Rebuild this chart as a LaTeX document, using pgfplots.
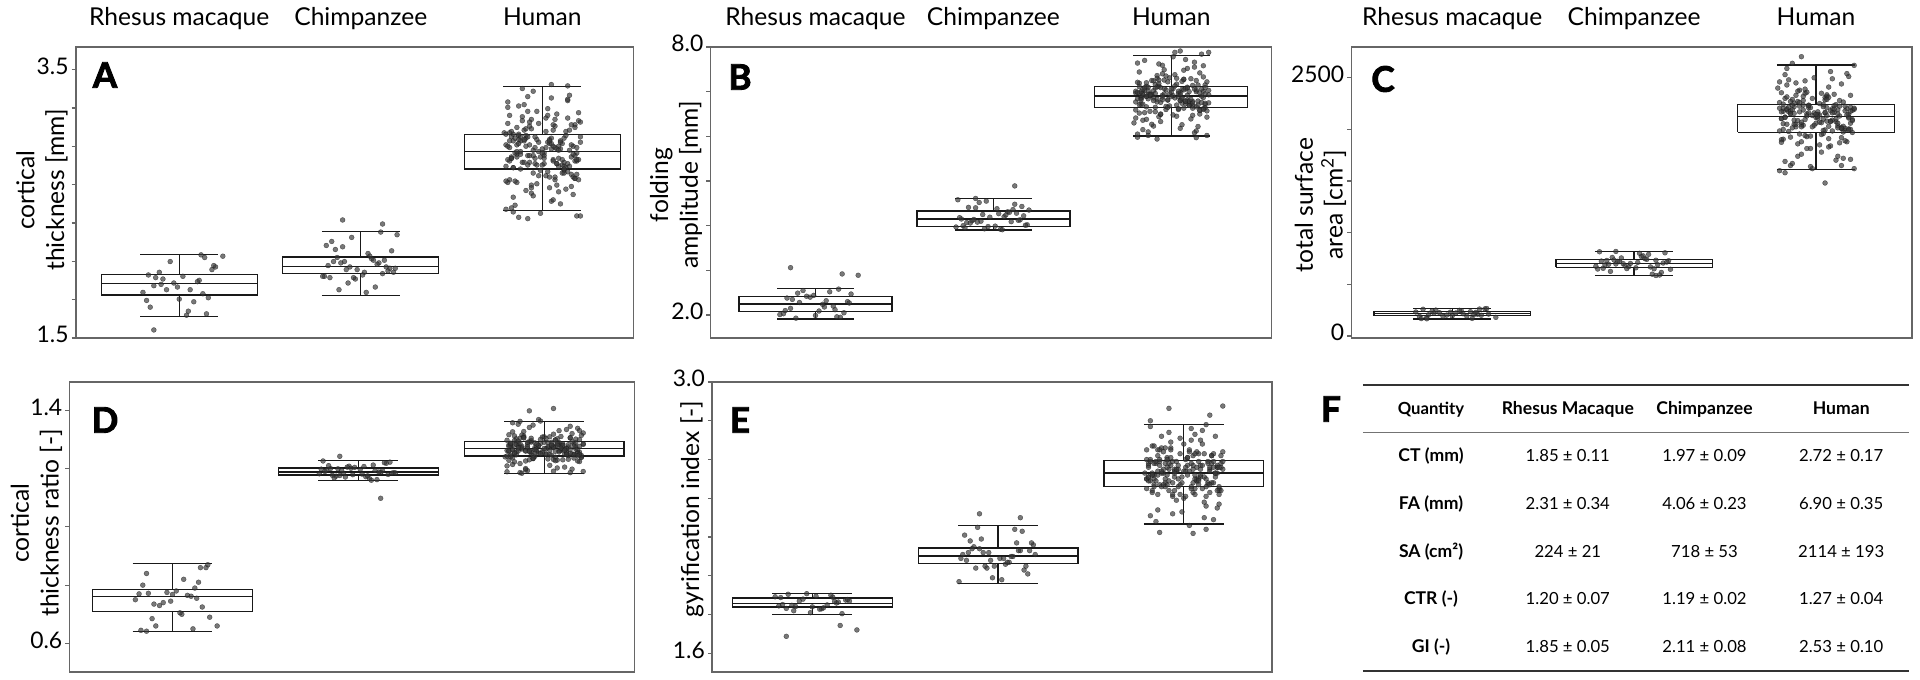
\documentclass[border=0pt]{standalone}
\usepackage{fontspec}
\setmainfont{Lato}
\newfontfamily\heavy{Lato}[BoldFeatures={FakeBold=2.5}]
\usepackage{pgfplots}
\usepackage{pgfplotstable}
\usepgfplotslibrary{statistics}
\pgfplotsset{compat=1.18}

% human: x jitter around 3, one y column per panel
\pgfplotstableread{
x A B C D E
2.93 2.81 7.62 2188 1.251 2.57
3.11 2.95 6.73 1702 1.205 2.63
2.82 2.68 6.52 1905 1.281 2.49
3.18 3.09 7.01 2512 1.338 2.56
2.99 2.85 7.31 2160 1.259 2.33
3.05 2.52 6.80 2310 1.231 2.43
2.88 2.97 6.95 2050 1.276 2.72
3.14 3.27 6.12 2010 1.305 2.55
2.80 2.78 6.41 2205 1.262 2.65
3.08 2.64 7.72 1840 1.289 2.47
2.91 3.01 7.08 2380 1.193 2.52
3.20 3.12 7.22 2095 1.238 2.58
2.86 2.87 6.66 1650 1.352 2.42
3.02 2.92 6.86 2140 1.271 2.61
2.84 2.44 6.98 2590 1.312 2.50
3.16 2.72 6.58 1990 1.247 2.29
2.95 3.34 7.40 1930 1.265 2.54
3.10 2.91 6.70 2230 1.285 2.75
2.90 3.05 6.23 2270 1.226 2.48
3.06 2.83 7.05 2080 1.298 2.45
3.13 2.77 7.55 2130 1.244 2.59
2.83 3.00 6.89 1580 1.214 2.67
3.04 2.62 6.60 1960 1.290 2.46
2.89 3.15 6.92 2450 1.327 2.53
3.19 2.88 7.15 2215 1.256 2.37
2.94 2.58 6.76 2350 1.235 2.41
3.09 2.93 7.10 1985 1.279 2.70
2.81 3.22 5.98 2105 1.316 2.58
3.01 2.80 6.48 2170 1.249 2.60
3.17 2.70 7.84 1880 1.273 2.51
2.87 2.98 6.94 2290 1.186 2.47
3.07 3.08 7.27 2030 1.229 2.56
2.92 2.86 6.83 1760 1.341 2.44
3.21 2.96 6.75 2195 1.283 2.64
2.85 2.49 7.03 2480 1.302 2.49
3.03 2.74 6.45 2065 1.263 2.26
2.97 3.19 7.35 1815 1.253 2.55
3.12 2.99 6.68 2150 1.269 2.78
2.79 3.03 6.30 2400 1.240 2.53
3.00 2.79 6.99 2115 1.309 2.40
2.96 2.84 7.49 2235 1.258 2.54
3.15 2.90 6.79 1720 1.198 2.62
2.86 2.66 6.38 1925 1.287 2.52
3.08 3.17 7.07 2560 1.330 2.59
2.82 2.82 7.19 2175 1.246 2.31
3.19 2.41 6.71 2330 1.224 2.45
2.93 2.94 7.12 2040 1.291 2.69
3.05 3.29 6.18 1995 1.318 2.57
2.88 2.76 6.56 2220 1.267 2.66
3.13 2.61 7.66 1870 1.274 2.48
2.80 3.02 6.97 2260 1.209 2.50
3.02 3.14 7.38 2070 1.233 2.57
2.98 2.89 6.81 1620 1.363 2.42
3.10 2.97 6.69 2165 1.280 2.68
2.84 2.55 6.93 2430 1.296 2.46
3.18 2.69 6.62 2005 1.255 2.35
2.90 3.24 7.24 1860 1.261 2.58
3.06 2.93 6.87 2210 1.277 2.73
2.81 3.10 6.05 2355 1.228 2.49
3.14 2.80 7.00 2020 1.306 2.43
3.01 2.86 7.78 2145 1.250 2.56
2.87 3.01 6.84 1670 1.217 2.65
3.16 2.63 6.50 1890 1.284 2.48
2.94 3.06 7.09 2470 1.349 2.59
3.11 2.79 7.29 2240 1.266 2.38
2.83 2.47 6.72 2300 1.237 2.44
3.04 2.95 6.96 2100 1.272 2.76
2.89 3.36 6.27 2025 1.311 2.55
3.20 2.83 6.43 2185 1.245 2.62
2.95 2.73 7.59 1815 1.288 2.51
3.07 2.92 7.04 2410 1.202 2.49
2.82 3.16 7.44 2055 1.241 2.59
3.12 2.81 6.78 1740 1.334 2.41
2.91 2.99 6.65 2225 1.270 2.61
3.17 2.57 7.06 2540 1.301 2.53
2.85 2.67 6.53 1980 1.257 2.28
3.03 3.21 7.17 1950 1.248 2.54
2.98 2.96 6.82 2135 1.286 2.71
3.13 3.04 6.08 2280 1.232 2.47
2.88 2.87 6.91 2090 1.315 2.46
3.09 2.78 7.52 2200 1.264 2.57
2.80 2.94 6.77 1600 1.189 2.60
2.97 2.65 6.60 1935 1.278 2.50
3.21 3.11 6.93 2620 1.322 2.55
2.86 2.85 7.12 2155 1.260 2.34
3.06 2.53 6.74 2320 1.239 2.42
2.92 3.00 7.11 2045 1.292 2.74
3.15 3.31 6.22 1975 1.320 2.58
2.84 2.77 6.36 2190 1.252 2.67
3.02 2.71 7.88 1850 1.275 2.52
2.90 2.97 7.02 2370 1.196 2.46
3.18 3.07 7.33 2120 1.226 2.56
2.83 2.84 6.85 1690 1.357 2.43
3.08 2.91 6.73 2180 1.282 2.63
2.99 2.43 6.95 2500 1.308 2.51
3.12 2.75 6.47 2035 1.254 2.24
2.81 3.26 7.21 1900 1.259 2.57
3.04 2.98 6.88 2240 1.279 2.70
2.94 3.13 6.33 2390 1.234 2.48
3.19 2.82 7.09 2060 1.299 2.44
2.85 2.88 7.70 2170 1.247 2.58
3.03 2.96 6.70 1780 1.211 2.64
2.91 2.60 6.55 1955 1.283 2.47
3.14 3.14 7.04 2440 1.345 2.54
2.96 2.80 7.26 2210 1.263 2.39
3.10 2.50 6.79 2340 1.230 2.45
2.82 2.92 6.97 2000 1.277 2.77
3.20 3.18 6.02 2085 1.314 2.56
2.93 2.86 6.44 2235 1.257 2.66
3.07 2.68 7.48 1830 1.286 2.50
2.88 3.00 6.91 2255 1.184 2.53
3.16 3.09 7.42 2010 1.236 2.59
2.97 2.79 6.67 1640 1.368 2.46
3.05 2.95 6.80 2160 1.274 2.62
2.80 2.46 7.01 2460 1.297 2.50
3.11 2.73 6.39 2075 1.250 2.30
2.92 3.30 7.36 1880 1.262 2.55
3.17 2.93 6.76 2200 1.288 2.72
2.84 3.02 6.15 2315 1.223 2.52
3.01 2.84 7.07 2110 1.303 2.41
3.18 2.82 7.58 2145 1.254 2.57
2.90 2.98 6.86 1740 1.200 2.66
3.07 2.70 6.63 1910 1.280 2.49
2.83 3.04 7.00 2530 1.326 2.53
3.12 2.78 7.14 2190 1.268 2.36
2.95 2.56 6.82 2360 1.242 2.44
3.00 2.91 7.06 2060 1.290 2.68
2.87 3.23 6.10 2015 1.304 2.59
3.16 2.85 6.58 2225 1.249 2.63
2.81 2.66 7.64 1875 1.281 2.51
3.05 2.99 6.98 2285 1.191 2.48
2.92 3.19 7.30 2025 1.230 2.58
3.19 2.83 6.74 1710 1.330 2.42
2.86 2.94 6.89 2180 1.276 2.65
3.09 2.59 7.08 2490 1.310 2.52
2.94 2.64 6.49 2095 1.245 2.32
3.14 3.28 7.25 1920 1.266 2.56
2.82 2.97 6.71 2205 1.284 2.80
3.06 3.05 6.26 2335 1.227 2.50
2.89 2.81 6.94 2050 1.307 2.47
2.92 2.39 5.94 2704 1.398 2.864
3.05 3.39 7.91 1481 1.406 2.219
3.21 2.41 7.88 1620 1.190 2.876
2.87 2.40 6.02 2640 1.362 2.224
3.14 3.38 5.97 1650 1.186 2.829
2.95 2.90 6.92 2150 1.272 2.55
3.09 2.84 6.81 2090 1.262 2.51
2.84 2.97 7.05 2200 1.281 2.58
3.15 2.78 6.70 2030 1.250 2.48
2.91 3.06 7.16 2260 1.290 2.60
3.04 2.70 6.62 1990 1.246 2.45
2.81 2.93 6.98 2170 1.276 2.56
3.18 2.86 6.87 2110 1.266 2.53
2.98 3.10 7.22 2300 1.300 2.63
3.12 2.76 6.75 2060 1.256 2.50
2.87 2.95 7.02 2190 1.270 2.57
3.06 2.82 6.85 2135 1.259 2.52
2.93 3.08 7.18 2280 1.296 2.61
3.20 2.68 6.57 1970 1.240 2.44
2.85 2.99 7.09 2215 1.283 2.59
3.01 2.88 6.91 2125 1.268 2.54
2.89 3.12 7.25 2330 1.305 2.64
3.14 2.74 6.66 2010 1.252 2.47
2.96 2.92 6.95 2160 1.274 2.55
3.08 2.80 6.78 2080 1.261 2.50
2.82 3.03 7.11 2245 1.287 2.60
3.17 2.87 6.90 2140 1.267 2.53
2.94 2.62 6.50 1940 1.236 2.42
3.03 3.16 7.30 2350 1.309 2.65
2.88 2.89 6.93 2155 1.271 2.54
3.11 2.83 6.83 2100 1.263 2.51
2.97 2.98 7.04 2210 1.279 2.57
3.19 2.72 6.64 2000 1.248 2.46
2.86 3.07 7.20 2270 1.294 2.62
3.05 2.91 6.94 2165 1.273 2.55
2.92 2.79 6.77 2070 1.258 2.49
3.13 3.01 7.06 2225 1.282 2.58
2.83 2.85 6.86 2120 1.265 2.52
3.07 3.13 7.28 2310 1.302 2.64
2.99 2.75 6.68 2040 1.254 2.48
3.16 2.94 6.97 2180 1.277 2.56
2.90 2.81 6.80 2085 1.260 2.50
3.02 3.04 7.13 2250 1.289 2.61
2.80 2.67 6.59 1985 1.243 2.45
3.10 2.96 7.00 2195 1.280 2.57
2.95 2.86 6.88 2130 1.264 2.53
3.21 3.00 7.03 2205 1.285 2.59
2.84 2.77 6.72 2050 1.255 2.47
3.06 3.09 7.23 2290 1.298 2.63
2.91 2.93 6.96 2170 1.275 2.56
3.12 2.73 6.63 2015 1.249 2.46
2.87 3.02 7.10 2235 1.286 2.60
3.00 2.88 6.89 2145 1.269 2.54
3.18 2.69 6.60 1995 1.244 2.44
2.93 3.11 7.26 2320 1.304 2.65
3.09 2.90 6.92 2160 1.270 2.55
2.81 2.83 6.84 2105 1.262 2.51
3.04 2.97 7.01 2220 1.281 2.58
2.98 2.71 6.65 2025 1.251 2.47
3.15 3.05 7.15 2265 1.292 2.62
2.86 2.89 6.90 2150 1.271 2.54
3.08 2.80 6.79 2075 1.257 2.49
2.96 3.00 7.07 2230 1.284 2.59
3.19 2.92 6.95 2175 1.276 2.56
2.83 2.84 6.82 2115 1.264 2.52
}\human

% chimpanzee: x jitter around 2
\pgfplotstableread{
x A B C D E
1.92 2.01 4.52 720 1.183 2.12
2.10 2.06 4.09 598 1.162 2.17
1.83 1.95 4.00 655 1.195 2.08
2.17 2.15 4.22 805 1.222 2.13
2.02 1.99 4.38 712 1.181 1.98
1.88 1.86 4.11 760 1.174 2.04
2.13 2.08 4.28 690 1.192 2.23
1.95 2.25 3.93 680 1.208 2.12
2.19 2.02 4.02 728 1.186 2.16
1.80 1.96 4.58 648 1.198 2.09
2.06 2.09 4.20 748 1.165 2.07
1.90 2.18 4.40 697 1.176 2.14
2.15 2.00 4.13 615 1.218 2.05
1.85 2.07 4.07 731 1.200 2.18
2.08 1.88 4.31 790 1.212 2.10
1.97 1.94 3.98 670 1.179 1.99
2.20 2.27 4.35 645 1.185 2.11
1.82 2.04 4.15 725 1.190 2.21
2.04 2.13 3.92 770 1.172 2.06
1.94 2.03 4.25 700 1.205 2.04
2.12 1.98 4.48 733 1.187 2.13
1.87 2.10 4.06 625 1.168 2.15
2.01 1.97 3.99 660 1.197 2.09
1.81 2.19 4.18 815 1.226 2.11
2.16 2.02 4.43 706 1.180 2.01
1.93 1.91 4.10 755 1.171 2.05
2.09 2.05 4.30 668 1.193 2.24
1.84 2.22 3.95 688 1.210 2.12
2.18 1.99 4.01 716 1.184 2.17
1.96 1.95 4.55 652 1.201 2.08
2.07 2.08 4.24 742 1.160 2.10
1.86 2.16 4.41 694 1.177 2.14
2.14 2.03 4.12 590 1.220 2.03
1.91 2.07 4.08 722 1.194 2.19
2.03 1.84 4.27 800 1.207 2.09
1.79 1.96 3.97 675 1.182 1.97
2.11 2.29 4.36 650 1.188 2.13
1.89 2.06 4.14 735 1.199 2.25
2.05 2.11 3.91 775 1.175 2.07
1.98 2.01 4.19 702 1.204 2.05
1.90 2.38 4.61 818 1.242 2.32
2.12 2.35 4.89 585 1.098 2.30
}\chimp

% rhesus macaque: x jitter around 1
\pgfplotstableread{
x A B C D E
0.93 1.86 2.55 225 0.730 1.870
1.11 1.93 2.12 170 0.650 1.890
0.82 1.78 2.03 190 0.770 1.845
1.18 2.01 2.30 262 0.860 1.875
0.99 1.88 2.44 230 0.745 1.810
1.05 1.70 2.18 245 0.700 1.830
0.87 1.95 2.35 205 0.772 1.905
1.14 2.10 1.95 210 0.810 1.865
0.80 1.84 2.01 232 0.750 1.892
1.08 1.77 2.52 192 0.765 1.850
0.91 1.94 2.28 250 0.660 1.842
1.20 2.03 2.47 212 0.690 1.870
0.86 1.89 2.15 178 0.840 1.832
1.02 1.96 2.09 222 0.780 1.895
0.84 1.73 2.38 258 0.800 1.852
1.16 1.80 2.05 200 0.725 1.805
0.95 2.07 2.42 188 0.740 1.880
1.10 1.92 2.20 235 0.762 1.900
0.89 1.99 1.93 242 0.685 1.848
1.06 1.86 2.32 215 0.820 1.835
1.13 1.83 2.58 228 0.755 1.860
0.83 1.97 2.10 168 0.645 1.888
1.00 1.79 1.99 194 0.768 1.840
1.19 2.04 2.27 265 0.870 1.878
0.90 1.90 2.49 219 0.735 1.820
1.04 1.67 2.24 248 0.705 1.828
0.97 1.91 2.40 202 0.775 1.908
1.12 2.12 1.96 208 0.790 1.868
0.86 1.56 3.06 166 0.642 1.688
1.15 1.68 2.92 260 0.860 1.744
1.24 2.11 2.89 180 0.660 1.721
}\macaque

\pgfplotsset{
  panel/.style={
    scale only axis, anchor=south west, clip=false,
    axis line style={draw=black!60, line width=0.9pt},
    tick align=outside, major tick length=0.085cm,
    ytick pos=left,
    ytick style={draw=black!60, line width=0.7pt},
    xtick style={draw=none},
    xtick={1,2,3},
    /pgf/number format/assume math mode=true,
    yticklabel style={font=\fontsize{13}{14}\selectfont, inner sep=1.5pt},
    xticklabel style={font=\fontsize{14}{16}\selectfont, yshift=1.5pt},
    xticklabel pos=upper, typeset ticklabels with strut,
  },
  cats/.style={xticklabels={Rhesus macaque, Chimpanzee, Human}},
  nocats/.style={xticklabels={}},
  pts/.style={only marks, mark=*, mark size=1.4pt,
    mark options={draw=black!90, fill=black!78, line width=0.2pt,
      draw opacity=0.68, fill opacity=0.68}},
  bx/.style={black!90, solid, line width=0.75pt, mark=none},
}
% box from prepared statistics: position, median, upper q, lower q, upper w, lower w
\newcommand{\bx}[6]{\addplot[bx, boxplot/draw direction=y, boxplot prepared={draw position=#1,
  median=#2, upper quartile=#3, lower quartile=#4,
  upper whisker=#5, lower whisker=#6, box extend=0.86, whisker extend=0.43}]
  coordinates {};}
\newcommand{\ylab}[3]{\node[rotate=90, align=center,
  font=\fontsize{14}{17}\selectfont] at (#1,#2) {#3};}
\newcommand{\plab}[3]{\node[font=\fontsize{20}{22}\selectfont\heavy\bfseries] at (#1,#2) {#3};}

\begin{document}
\begin{tikzpicture}
\path[use as bounding box] (0,0) rectangle (38.4,13.6);

% ---------- A: cortical thickness
\begin{axis}[panel, cats, at={(1.516cm,6.84cm)}, width=11.152cm, height=5.82cm,
  xmin=0.430, xmax=3.502, ymin=1.5, ymax=3.670,
  ytick={1.5,1.785714,2.071429,2.357143,2.642857,2.928571,3.214286,3.5},
  yticklabels={1.5,,,,,,,3.5}]
\bx{1}{1.907}{1.974}{1.821}{2.124}{1.661}
\bx{2}{2.031}{2.105}{1.981}{2.295}{1.816}
\bx{3}{2.893}{3.019}{2.759}{3.376}{2.450}
\addplot[pts] table[x=x, y=A] {\macaque};
\addplot[pts] table[x=x, y=A] {\chimp};
\addplot[pts] table[x=x, y=A] {\human};
\end{axis}

% ---------- B: folding amplitude
\begin{axis}[panel, cats, at={(14.21cm,6.84cm)}, width=11.216cm, height=5.82cm,
  xmin=0.410, xmax=3.562, ymin=1.486, ymax=8.0,
  ytick={2,3,4,5,6,7,8}, yticklabels={2.0,,,,,,8.0}]
\bx{1}{2.246}{2.41}{2.074}{2.59}{1.91}
\bx{2}{4.147}{4.326}{3.975}{4.61}{3.90}
\bx{3}{6.90}{7.12}{6.645}{7.81}{6.01}
\addplot[pts] table[x=x, y=B] {\macaque};
\addplot[pts] table[x=x, y=B] {\chimp};
\addplot[pts] table[x=x, y=B] {\human};
\end{axis}

% ---------- C: total surface area (boxes drawn as lines)
\begin{axis}[panel, cats, at={(27.028cm,6.84cm)}, width=11.208cm, height=5.82cm,
  xmin=0.446, xmax=3.527, ymin=-20, ymax=2798,
  ytick={0,500,1000,1500,2000,2500}, yticklabels={0,,,,,2500}]
% macaque
\addplot[bx] coordinates {(0.57,196) (1.43,196) (1.43,238) (0.57,238) (0.57,196)};
\addplot[bx] coordinates {(0.57,218) (1.43,218)};
\addplot[bx] coordinates {(1,238) (1,267)};
\addplot[bx] coordinates {(1,196) (1,164)};
\addplot[bx] coordinates {(0.785,267) (1.215,267)};
\addplot[bx] coordinates {(0.785,164) (1.215,164)};
% chimpanzee
\addplot[bx] coordinates {(1.57,665) (2.43,665) (2.43,737) (1.57,737) (1.57,665)};
\addplot[bx] coordinates {(1.57,704) (2.43,704)};
\addplot[bx] coordinates {(2,737) (2,820)};
\addplot[bx] coordinates {(2,665) (2,584)};
\addplot[bx] coordinates {(1.785,820) (2.215,820)};
\addplot[bx] coordinates {(1.785,584) (2.215,584)};
% human
\addplot[bx] coordinates {(2.57,1973) (3.43,1973) (3.43,2242) (2.57,2242) (2.57,1973)};
\addplot[bx] coordinates {(2.57,2125) (3.43,2125)};
\addplot[bx] coordinates {(3,2242) (3,2623)};
\addplot[bx] coordinates {(3,1973) (3,1611)};
\addplot[bx] coordinates {(2.785,2623) (3.215,2623)};
\addplot[bx] coordinates {(2.785,1611) (3.215,1611)};
\addplot[pts] table[x=x, y=C] {\macaque};
\addplot[pts] table[x=x, y=C] {\chimp};
\addplot[pts] table[x=x, y=C] {\human};
\end{axis}

% ---------- D: cortical thickness ratio
\begin{axis}[panel, nocats, at={(1.388cm,0.16cm)}, width=11.306cm, height=5.80cm,
  xmin=0.445, xmax=3.487, ymin=0.502, ymax=1.497,
  ytick={0.6,0.8,1.0,1.2,1.4}, yticklabels={0.6,,,,1.4}]
\bx{1}{0.760}{0.784}{0.710}{0.875}{0.640}
\bx{2}{1.188}{1.202}{1.178}{1.228}{1.159}
\bx{3}{1.268}{1.293}{1.243}{1.362}{1.182}
\addplot[pts] table[x=x, y=D] {\macaque};
\addplot[pts] table[x=x, y=D] {\chimp};
\addplot[pts] table[x=x, y=D] {\human};
\end{axis}

% ---------- E: gyrification index
\begin{axis}[panel, nocats, at={(14.24cm,0.16cm)}, width=11.204cm, height=5.80cm,
  xmin=0.460, xmax=3.476, ymin=1.504, ymax=3.0,
  ytick={1.6,1.8,2.0,2.2,2.4,2.6,2.8,3.0}, yticklabels={1.6,,,,,,,3.0}]
\bx{1}{1.856}{1.885}{1.839}{1.908}{1.801}
\bx{2}{2.103}{2.144}{2.063}{2.258}{1.960}
\bx{3}{2.530}{2.594}{2.461}{2.781}{2.267}
\addplot[pts] table[x=x, y=E] {\macaque};
\addplot[pts] table[x=x, y=E] {\chimp};
\addplot[pts] table[x=x, y=E] {\human};
\end{axis}

% axis titles
\ylab{0.84}{9.8}{cortical\\thickness [mm]}
\ylab{13.52}{9.9}{folding\\amplitude [mm]}
\ylab{26.41}{9.5}{total surface\\area [cm\textsuperscript{2}]}
\ylab{0.73}{3.14}{cortical\\thickness ratio [-]}
\ylab{13.84}{3.42}{gyrification index [-]}

% panel letters
\plab{2.1}{12.1}{A}
\plab{14.8}{12.06}{B}
\plab{27.66}{12.02}{C}
\plab{2.1}{5.2}{D}
\plab{14.8}{5.2}{E}
\plab{26.62}{5.42}{F}

% ---------- F: summary table
\draw[black!80, line width=1.1pt] (27.258,5.9) -- (38.172,5.9);
\draw[black!55, line width=0.7pt] (27.258,4.954) -- (38.172,4.954);
\draw[black!80, line width=1.1pt] (27.258,0.186) -- (38.172,0.186);
\begin{scope}[every node/.style={font=\fontsize{9.5}{11}\selectfont, text height=1.6ex, text depth=0.4ex}]
\node[font=\fontsize{9.5}{11}\selectfont\bfseries] at (28.62,5.42) {Quantity};
\node[font=\fontsize{10}{11}\selectfont\bfseries] at (31.356,5.42) {Rhesus Macaque};
\node[font=\fontsize{10}{11}\selectfont\bfseries] at (34.09,5.42) {Chimpanzee};
\node[font=\fontsize{10}{11}\selectfont\bfseries] at (36.824,5.42) {Human};
\node[font=\fontsize{10}{11}\selectfont\bfseries] at (28.62,4.48) {CT (mm)};
\node at (31.356,4.48) {1.85 ± 0.11};
\node at (34.09,4.48) {1.97 ± 0.09};
\node at (36.824,4.48) {2.72 ± 0.17};
\node[font=\fontsize{10}{11}\selectfont\bfseries] at (28.62,3.52) {FA (mm)};
\node at (31.356,3.52) {2.31 ± 0.34};
\node at (34.09,3.52) {4.06 ± 0.23};
\node at (36.824,3.52) {6.90 ± 0.35};
\node[font=\fontsize{10}{11}\selectfont\bfseries] at (28.62,2.566) {SA (cm²)};
\node at (31.356,2.566) {224 ± 21};
\node at (34.09,2.566) {718 ± 53};
\node at (36.824,2.566) {2114 ± 193};
\node[font=\fontsize{10}{11}\selectfont\bfseries] at (28.62,1.614) {CTR (-)};
\node at (31.356,1.614) {1.20 ± 0.07};
\node at (34.09,1.614) {1.19 ± 0.02};
\node at (36.824,1.614) {1.27 ± 0.04};
\node[font=\fontsize{10}{11}\selectfont\bfseries] at (28.62,0.666) {GI (-)};
\node at (31.356,0.666) {1.85 ± 0.05};
\node at (34.09,0.666) {2.11 ± 0.08};
\node at (36.824,0.666) {2.53 ± 0.10};
\end{scope}
\end{tikzpicture}
\end{document}
